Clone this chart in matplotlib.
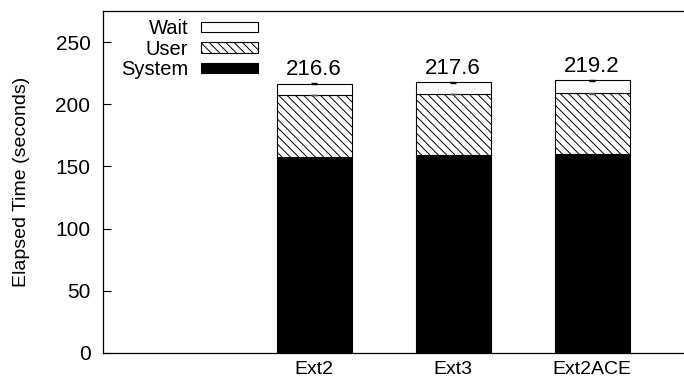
import matplotlib
matplotlib.use("Agg")
import matplotlib.pyplot as plt
from matplotlib.patches import Patch

plt.rcParams["font.family"] = ["Liberation Sans", "DejaVu Sans"]
plt.rcParams["hatch.linewidth"] = 0.7

fs_names = ["Ext2", "Ext3", "Ext2ACE"]
system_t = [157.5, 159.0, 160.0]
user_t = [50.0, 49.3, 48.8]
total_t = [216.6, 217.6, 219.2]
user_err = [0.2, 0.3, 0.3]
total_err = [0.3, 0.3, 0.5]

wait_t = [t - s - u for t, s, u in zip(total_t, system_t, user_t)]
xpos = [1, 2, 3]
width = 0.54

fig = plt.figure(figsize=(6.84, 3.81), dpi=100)
# right edge runs just past the canvas, so no right border shows
ax = fig.add_axes([103 / 684, 28 / 381, 585 / 684, 342 / 381])

ax.bar(xpos, system_t, width, color="black", edgecolor="black", linewidth=0.8)
ax.bar(xpos, user_t, width, bottom=system_t, color="white",
       edgecolor="black", hatch="\\\\\\\\", linewidth=0.8)
user_top = [s + u for s, u in zip(system_t, user_t)]
ax.bar(xpos, wait_t, width, bottom=user_top, color="white",
       edgecolor="black", linewidth=0.8)

ax.errorbar(xpos, user_top, yerr=user_err, fmt="none", ecolor="#555555",
            elinewidth=0.8, capsize=2)
ax.errorbar(xpos, total_t, yerr=total_err, fmt="none", ecolor="black",
            elinewidth=0.8, capsize=2)

for x, t in zip(xpos, total_t):
    ax.annotate(f"{t:.1f}", (x, t), xytext=(0, 6), textcoords="offset points",
                ha="center", va="baseline", fontsize=16)

ax.set_xlim(-0.52, 3.69)
ax.set_ylim(0, 275)
ax.set_xticks(xpos)
ax.set_xticklabels(fs_names, fontsize=14)
ax.set_yticks(range(0, 251, 50))
ax.tick_params(axis="y", direction="in", length=6, labelsize=15, pad=9)
ax.tick_params(axis="x", length=0, pad=6)
ax.set_ylabel("Elapsed Time (seconds)", fontsize=14, labelpad=18)
for sp in ax.spines.values():
    sp.set_linewidth(0.9)

handles = [
    Patch(facecolor="white", edgecolor="black", linewidth=0.8, label="Wait"),
    Patch(facecolor="white", edgecolor="black", linewidth=0.8,
          hatch="\\\\\\\\", label="User"),
    Patch(facecolor="black", edgecolor="black", linewidth=0.8, label="System"),
]
ax.legend(handles=handles, loc="upper left", bbox_to_anchor=(121 / 684, 1 - 19 / 381),
          bbox_transform=fig.transFigure, frameon=False, markerfirst=False,
          fontsize=14.5, handlelength=2.8, handleheight=0.42, handletextpad=0.65,
          labelspacing=0.08, borderpad=0, borderaxespad=0)

fig.savefig("out.png", dpi=100)
